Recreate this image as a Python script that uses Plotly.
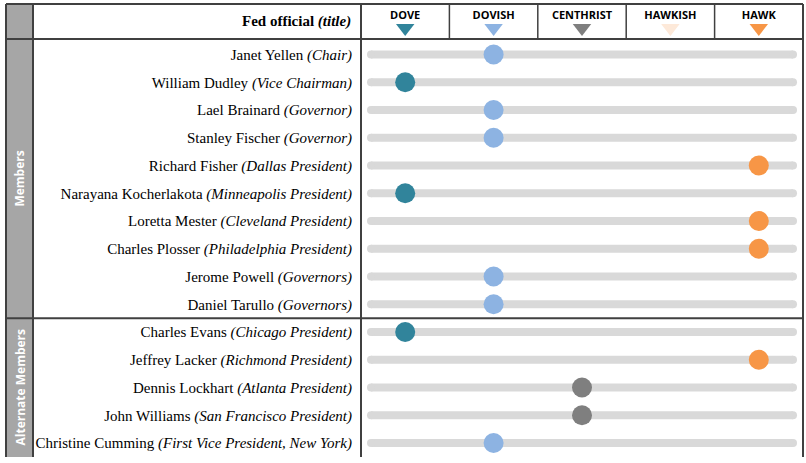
import plotly.graph_objects as go

# ---------------- data ----------------
officials = [
    "Janet Yellen", "William Dudley", "Lael Brainard", "Stanley Fischer",
    "Richard Fisher", "Narayana Kocherlakota", "Loretta Mester", "Charles Plosser",
    "Jerome Powell", "Daniel Tarullo",
    "Charles Evans", "Jeffrey Lacker", "Dennis Lockhart", "John Williams",
    "Christine Cumming",
]
titles = [
    "Chair", "Vice Chairman", "Governor", "Governor",
    "Dallas President", "Minneapolis President", "Cleveland President",
    "Philadelphia President", "Governors", "Governors",
    "Chicago President", "Richmond President", "Atlanta President",
    "San Francisco President", "First Vice President, New York",
]
# 1 = dove ... 5 = hawk
stance = [2, 1, 2, 2, 5, 1, 5, 5, 2, 2, 1, 5, 3, 3, 2]

stance_labels = ["DOVE", "DOVISH", "CENTHRIST", "HAWKISH", "HAWK"]
stance_values = [1, 2, 3, 4, 5]
stance_colors = ["#31849b", "#8db3e2", "#7f7f7f", "#fde9d9", "#f79646"]

group_names = ["Members", "Alternate Members"]
group_sizes = [10, 5]

# ---------------- geometry ----------------
W, H = 806, 463
ROW0_PX, ROW_PX = 54.5, 27.75          # pixel of first row centre, row pitch
COL_LEFT_PX, COL_RIGHT_PX = 361, 803   # stance area
SIDE_L, SIDE_R = 6, 33
TOP_PX, HEAD_PX, BOTTOM_PX = 4, 39, 457
BORDER = "#404040"


def px_to_y(p):
    return (p - ROW0_PX) / ROW_PX


def px(xp):
    return xp / W


def py(yp):
    return 1 - yp / H


n = len(officials)
rows = list(range(n))
bar_pad = 0.113
bar_lo, bar_hi = min(stance_values) - 0.5 + bar_pad, max(stance_values) + 0.5 - bar_pad

fig = go.Figure()

# grey track per official
bx, by = [], []
for i in rows:
    bx += [bar_lo, bar_hi, None]
    by += [i, i, None]
fig.add_trace(go.Scatter(
    x=bx, y=by, mode="lines+markers",
    line=dict(color="#d9d9d9", width=8),
    marker=dict(color="#d9d9d9", size=8),
    hoverinfo="skip", showlegend=False,
))

# stance dots
fig.add_trace(go.Scatter(
    x=stance, y=rows, mode="markers",
    marker=dict(size=20, color=[stance_colors[s - 1] for s in stance], line=dict(width=0)),
    hoverinfo="skip", showlegend=False,
))

# header triangles
fig.add_trace(go.Scatter(
    x=stance_values, y=[px_to_y(28)] * 5, mode="markers",
    marker=dict(symbol="triangle-down", size=16, color=stance_colors, line=dict(width=0)),
    hoverinfo="skip", showlegend=False, cliponaxis=False,
))

# header labels
fig.add_trace(go.Scatter(
    x=stance_values, y=[px_to_y(16)] * 5, mode="text",
    text=stance_labels,
    textfont=dict(family="Open Sans", size=11, color="#000000", weight="bold"),
    hoverinfo="skip", showlegend=False, cliponaxis=False,
))

shapes = []
# sidebar fill
shapes.append(dict(type="rect", xref="paper", yref="paper",
                   x0=px(SIDE_L), x1=px(SIDE_R), y0=py(BOTTOM_PX), y1=py(TOP_PX),
                   fillcolor="#a6a6a6", line=dict(width=0), layer="below"))


def hline(y, x0, x1, w=2):
    shapes.append(dict(type="line", xref="paper", yref="paper",
                       x0=px(x0), x1=px(x1), y0=py(y), y1=py(y),
                       line=dict(color=BORDER, width=w)))


def vline(x, y0, y1, w=2):
    shapes.append(dict(type="line", xref="paper", yref="paper",
                       x0=px(x), x1=px(x), y0=py(y0), y1=py(y1),
                       line=dict(color=BORDER, width=w)))


hline(TOP_PX, SIDE_L, COL_RIGHT_PX)
hline(HEAD_PX, SIDE_L, COL_RIGHT_PX)
sep_px = ROW0_PX + (group_sizes[0] - 0.5) * ROW_PX
hline(sep_px, SIDE_L, COL_RIGHT_PX)
vline(SIDE_L, TOP_PX, BOTTOM_PX)
vline(SIDE_R, TOP_PX, BOTTOM_PX)
vline(COL_LEFT_PX, TOP_PX, BOTTOM_PX)
vline(COL_RIGHT_PX, TOP_PX, BOTTOM_PX)
col_w = (COL_RIGHT_PX - COL_LEFT_PX) / 5
for k in range(1, 5):
    vline(COL_LEFT_PX + k * col_w, TOP_PX, HEAD_PX, w=1.5)

annotations = [
    dict(xref="paper", yref="paper", x=px(353), y=py(21.5), xanchor="right", yanchor="middle",
         text="<b>Fed official <i>(title)</i></b>", showarrow=False,
         font=dict(family="Liberation Serif", size=15, color="#000000")),
]
start = 0
sec_top = HEAD_PX
for name, size in zip(group_names, group_sizes):
    end = start + size
    sec_bot = min(ROW0_PX + (end - 0.5) * ROW_PX, BOTTOM_PX)
    annotations.append(dict(
        xref="paper", yref="paper", x=px((SIDE_L + SIDE_R) / 2 + 0.5), y=py((sec_top + sec_bot) / 2),
        text=f"<b>{name}</b>", textangle=-90, showarrow=False,
        xanchor="center", yanchor="middle",
        font=dict(family="Open Sans", size=12, color="#ffffff")))
    start = end
    sec_top = sec_bot

ticktext = [f"{o} <i>({t})</i>" for o, t in zip(officials, titles)]

fig.update_layout(
    width=W, height=H, autosize=False,
    margin=dict(l=0, r=0, t=0, b=0),
    paper_bgcolor="#ffffff", plot_bgcolor="#ffffff",
    shapes=shapes, annotations=annotations,
    xaxis=dict(domain=[px(COL_LEFT_PX), px(COL_RIGHT_PX)],
               range=[min(stance_values) - 0.5, max(stance_values) + 0.5],
               showgrid=False, zeroline=False, showticklabels=False, showline=False,
               fixedrange=True),
    yaxis=dict(domain=[0, 1],
               range=[px_to_y(H), px_to_y(0)],
               tickmode="array", tickvals=rows, ticktext=ticktext,
               tickfont=dict(family="Liberation Serif", size=15, color="#000000"),
               ticks="", ticklabelstandoff=8,
               showgrid=False, zeroline=False, showline=False, fixedrange=True),
    showlegend=False,
)

fig.write_html("out.html", config={"displayModeBar": False},
               post_script="document.body.style.margin='0';document.body.style.overflow='hidden';")
